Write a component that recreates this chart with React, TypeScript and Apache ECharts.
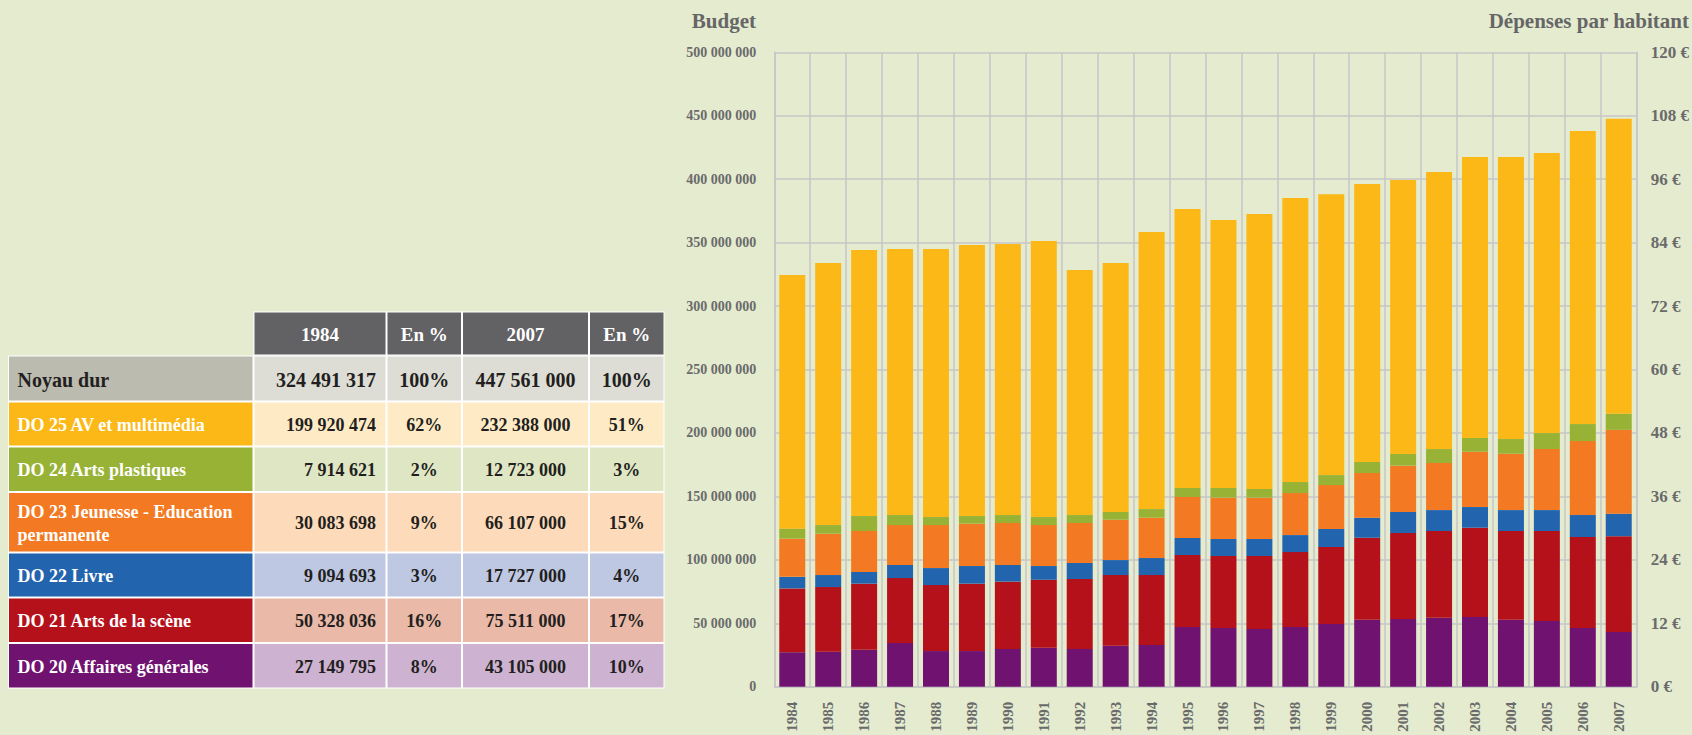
import React, { useEffect, useRef } from "react";
import * as echarts from "echarts";

// ---------- DATA ----------
const years = [
  "1984", "1985", "1986", "1987", "1988", "1989", "1990", "1991", "1992", "1993", "1994", "1995",
  "1996", "1997", "1998", "1999", "2000", "2001", "2002", "2003", "2004", "2005", "2006", "2007",
];

// DO 20 Affaires générales
const do20 = [
  27149795, 27600000, 29200000, 34400000, 28100000, 28100000, 29700000, 30700000, 29700000, 32300000, 32800000, 47000000,
  46200000, 45400000, 47000000, 49400000, 52800000, 53300000, 54400000, 54900000, 52800000, 51800000, 46200000, 43105000,
];
// DO 21 Arts de la scène
const do21 = [
  50328036, 50900000, 52000000, 51200000, 52000000, 53100000, 53100000, 53600000, 55200000, 55700000, 55200000, 56800000,
  56800000, 57600000, 59100000, 60700000, 64600000, 67800000, 68300000, 70400000, 69900000, 70900000, 71800000, 75511000,
];
// DO 22 Livre
const do22 = [
  9094693, 9500000, 9200000, 10300000, 13400000, 13900000, 13100000, 10800000, 12600000, 11800000, 13400000, 13400000,
  13400000, 13400000, 13400000, 14200000, 15800000, 16600000, 16500000, 16300000, 16500000, 16500000, 17300000, 17727000,
];
// DO 23 Jeunesse - Education permanente
const do23 = [
  30083698, 32600000, 32300000, 31500000, 33900000, 33400000, 33100000, 32300000, 31500000, 31800000, 31800000, 32300000,
  32600000, 32600000, 33100000, 34600000, 35200000, 36500000, 37100000, 43600000, 44400000, 48100000, 58300000, 66107000,
];
// DO 24 Arts plastiques
const do24 = [
  7914621, 6800000, 11800000, 7900000, 6300000, 6000000, 6300000, 6300000, 6300000, 6100000, 6800000, 7100000,
  7600000, 6800000, 8700000, 7900000, 8700000, 9200000, 11000000, 10800000, 11600000, 12600000, 13400000, 12723000,
];
// DO 25 AV et multimédia
const do25 = [
  199920474, 206500000, 209700000, 209700000, 211300000, 213600000, 213600000, 217600000, 193100000, 196200000, 218400000, 219900000,
  211200000, 216700000, 223800000, 221400000, 219100000, 215900000, 218300000, 221500000, 222300000, 220700000, 231000000, 232388000,
];

const seriesNames = [
  "DO 20 Affaires générales",
  "DO 21 Arts de la scène",
  "DO 22 Livre",
  "DO 23 Jeunesse - Education permanente",
  "DO 24 Arts plastiques",
  "DO 25 AV et multimédia",
];

// Table
const tableHeader = ["1984", "En %", "2007", "En %"];
const rowLabels = [
  "Noyau dur",
  "DO 25 AV et multimédia",
  "DO 24 Arts plastiques",
  "DO 23 Jeunesse - Education\npermanente",
  "DO 22 Livre",
  "DO 21 Arts de la scène",
  "DO 20 Affaires générales",
];
const values1984 = ["324 491 317", "199 920 474", "7 914 621", "30 083 698", "9 094 693", "50 328 036", "27 149 795"];
const pct1984 = ["100%", "62%", "2%", "9%", "3%", "16%", "8%"];
const values2007 = ["447 561 000", "232 388 000", "12 723 000", "66 107 000", "17 727 000", "75 511 000", "43 105 000"];
const pct2007 = ["100%", "51%", "3%", "15%", "4%", "17%", "10%"];

// ---------- STYLE ----------
const FONT = "'Liberation Serif', 'DejaVu Serif', serif";
const BG = "#E4EBCF";
const AXIS_TEXT = "#6A6A6A";
const GRID_LINE = "#C6C6C6";
const seriesColors = ["#701270", "#B5111A", "#2364AE", "#F37A22", "#98B236", "#FBB817"];
const labelCellColors = ["#BBBBAF", "#FBB817", "#98B236", "#F37A22", "#2364AE", "#B5111A", "#701270"];
const valueCellColors = ["#DDDDD5", "#FEEBC6", "#DFE6C3", "#FDDAB9", "#BFC8E3", "#EAB9A8", "#CDB3D1"];
const colEdges = [8, 253.5, 386.5, 462, 589, 664.5];
const headerEdges = [311.5, 355.5];
const rowEdges = [355.5, 401.5, 446.5, 492, 552.5, 597.5, 643, 688.5];

const fmtSpace = (v: number) => String(Math.round(v)).replace(/\B(?=(\d{3})+(?!\d))/g, " ");

function buildTable(): any[] {
  const els: any[] = [];
  els.push({
    type: "rect",
    shape: { x: colEdges[1], y: headerEdges[0], width: colEdges[5] - colEdges[1], height: headerEdges[1] - headerEdges[0] },
    style: { fill: "#FFFFFF" },
  });
  els.push({
    type: "rect",
    shape: { x: colEdges[0], y: rowEdges[0], width: colEdges[5] - colEdges[0], height: rowEdges[rowEdges.length - 1] - rowEdges[0] },
    style: { fill: "#FFFFFF" },
  });
  tableHeader.forEach((h, i) => {
    const x0 = colEdges[i + 1];
    const x1 = colEdges[i + 2];
    els.push({
      type: "rect",
      shape: { x: x0 + 1, y: headerEdges[0] + 1, width: x1 - x0 - 2, height: headerEdges[1] - headerEdges[0] - 2 },
      style: { fill: "#626164" },
    });
    els.push({
      type: "text",
      x: (x0 + x1) / 2,
      y: (headerEdges[0] + headerEdges[1]) / 2 + 1,
      style: {
        text: h,
        fill: "#FFFFFF",
        font: `bold 19px ${FONT}`,
        align: "center",
        verticalAlign: "middle",
      },
    });
  });
  rowLabels.forEach((label, r) => {
    const y0 = rowEdges[r];
    const y1 = rowEdges[r + 1];
    const yc = (y0 + y1) / 2 + 1;
    const isTotal = r === 0;
    const size = isTotal ? 20 : 18;
    for (let c = 0; c < 5; c++) {
      const x0 = colEdges[c];
      const x1 = colEdges[c + 1];
      els.push({
        type: "rect",
        shape: { x: x0 + 1, y: y0 + 1, width: x1 - x0 - 2, height: y1 - y0 - 2 },
        style: { fill: c === 0 ? labelCellColors[r] : valueCellColors[r] },
      });
    }
    els.push({
      type: "text",
      x: 17.5,
      y: yc,
      style: {
        text: label,
        fill: isTotal ? "#231F20" : "#FFFFFF",
        font: `bold ${size}px ${FONT}`,
        align: "left",
        verticalAlign: "middle",
        lineHeight: 23,
      },
    });
    els.push({
      type: "text",
      x: colEdges[2] - 10.5,
      y: yc,
      style: { text: values1984[r], fill: "#231F20", font: `bold ${size}px ${FONT}`, align: "right", verticalAlign: "middle" },
    });
    els.push({
      type: "text",
      x: (colEdges[2] + colEdges[3]) / 2,
      y: yc,
      style: { text: pct1984[r], fill: "#231F20", font: `bold ${size}px ${FONT}`, align: "center", verticalAlign: "middle" },
    });
    els.push({
      type: "text",
      x: (colEdges[3] + colEdges[4]) / 2,
      y: yc,
      style: { text: values2007[r], fill: "#231F20", font: `bold ${size}px ${FONT}`, align: "center", verticalAlign: "middle" },
    });
    els.push({
      type: "text",
      x: (colEdges[4] + colEdges[5]) / 2,
      y: yc,
      style: { text: pct2007[r], fill: "#231F20", font: `bold ${size}px ${FONT}`, align: "center", verticalAlign: "middle" },
    });
  });
  return els;
}

export default function App() {
  const ref = useRef<HTMLDivElement>(null);
  useEffect(() => {
    if (!ref.current) return;
    const chart = echarts.init(ref.current, null, { renderer: "svg" });
    const seriesData = [do20, do21, do22, do23, do24, do25];
    const option: any = {
      animation: false,
      backgroundColor: BG,
      textStyle: { fontFamily: FONT },
      grid: { left: 774.3, right: 55.3, top: 52.3, bottom: 48.3, containLabel: false },
      xAxis: {
        type: "category",
        data: years,
        boundaryGap: true,
        axisLine: { show: true, lineStyle: { color: GRID_LINE, width: 1.5 } },
        axisTick: { show: false },
        splitLine: { show: true, lineStyle: { color: GRID_LINE, width: 1.5 } },
        axisLabel: {
          rotate: 90,
          margin: 15,
          color: AXIS_TEXT,
          fontFamily: FONT,
          fontWeight: "bold",
          fontSize: 15,
          interval: 0,
        },
      },
      yAxis: [
        {
          type: "value",
          min: 0,
          max: 500000000,
          interval: 50000000,
          axisLine: { show: true, lineStyle: { color: GRID_LINE, width: 1.5 } },
          axisTick: { show: false },
          splitLine: { show: true, lineStyle: { color: GRID_LINE, width: 1.5 } },
          axisLabel: {
            margin: 18,
            color: AXIS_TEXT,
            fontFamily: FONT,
            fontWeight: "bold",
            fontSize: 14,
            formatter: (v: number) => fmtSpace(v),
          },
        },
        {
          type: "value",
          position: "right",
          min: 0,
          max: 120,
          interval: 12,
          axisLine: { show: true, lineStyle: { color: GRID_LINE, width: 1.5 } },
          axisTick: { show: false },
          splitLine: { show: false },
          axisLabel: {
            margin: 14,
            color: AXIS_TEXT,
            fontFamily: FONT,
            fontWeight: "bold",
            fontSize: 17,
            padding: [10, 0, 0, 0],
            formatter: (v: number) => `${v} €`,
          },
        },
      ],
      series: seriesData.map((d, i) => ({
        name: seriesNames[i],
        type: "bar",
        stack: "budget",
        barWidth: 26,
        yAxisIndex: 0,
        itemStyle: { color: seriesColors[i] },
        data: d,
      })),
      graphic: [
        {
          type: "text",
          x: 756,
          y: 21,
          style: { text: "Budget", fill: "#666666", font: `bold 21px ${FONT}`, align: "right", verticalAlign: "middle" },
        },
        {
          type: "text",
          x: 1689,
          y: 21,
          style: {
            text: "Dépenses par habitant",
            fill: "#666666",
            font: `bold 21px ${FONT}`,
            align: "right",
            verticalAlign: "middle",
          },
        },
        ...buildTable(),
      ],
    };
    chart.setOption(option);
    return () => chart.dispose();
  }, []);
  return (
    <div
      ref={ref}
      style={{ position: "fixed", left: 0, top: 0, width: 1692, height: 735, background: BG }}
    />
  );
}
